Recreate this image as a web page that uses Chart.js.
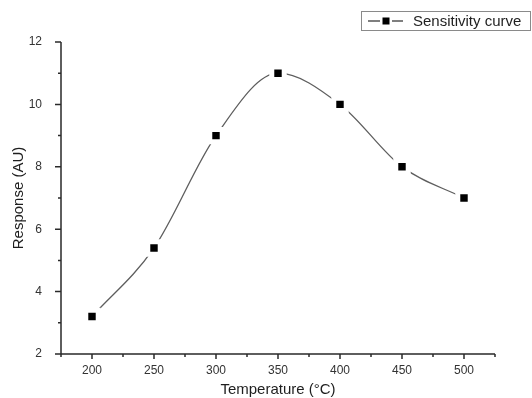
<!DOCTYPE html>
<html>
<head>
<meta charset="utf-8">
<script src="https://cdn.jsdelivr.net/npm/chart.js@4"></script>
<style>
  body { margin: 0; background: #fff; }
  #wrap { width: 532px; height: 398px; }
</style>
</head>
<body>
<div id="wrap"><canvas id="chart" width="532" height="398"></canvas></div>
<script>
const temperatures = [200, 250, 300, 350, 400, 450, 500];
const responses = [3.2, 5.4, 9, 11, 10, 8, 7];
const xTickValues = [200, 250, 300, 350, 400, 450, 500];
const yTickValues = [2, 4, 6, 8, 10, 12];
const seriesLabel = 'Sensitivity curve';

// origin-style axes: only left + bottom lines, outward major/minor ticks
const originAxes = {
    id: 'originAxes',
    afterDraw(chart) {
        const ctx = chart.ctx;
        const xs = chart.scales.x, ys = chart.scales.y;
        const left = chart.chartArea.left, bottom = chart.chartArea.bottom;
        ctx.save();
        ctx.strokeStyle = '#2a2a2a';
        ctx.lineWidth = 1.5;
        ctx.beginPath();
        ctx.moveTo(left, chart.chartArea.top);
        ctx.lineTo(left, bottom);
        ctx.moveTo(left - 1, bottom);
        ctx.lineTo(chart.chartArea.right, bottom);
        for (let v = xs.min; v <= xs.max; v += 25) {
            const px = xs.getPixelForValue(v);
            const len = v % 50 === 0 ? 5 : 3;
            ctx.moveTo(px, bottom);
            ctx.lineTo(px, bottom + len);
        }
        for (let v = ys.min; v <= ys.max; v += 1) {
            const py = ys.getPixelForValue(v);
            const len = v % 2 === 0 ? 6 : 3;
            ctx.moveTo(left, py);
            ctx.lineTo(left - len, py);
        }
        ctx.stroke();

        // framed legend
        const bx = 361, by = 11, bw = 169, bh = 19;
        ctx.strokeStyle = '#8a8a8a';
        ctx.lineWidth = 1;
        ctx.strokeRect(bx + 0.5, by + 0.5, bw, bh);
        const cy = by + bh / 2 + 0.5;
        ctx.strokeStyle = '#555';
        ctx.lineWidth = 1.3;
        ctx.beginPath();
        ctx.moveTo(368, cy); ctx.lineTo(380, cy);
        ctx.moveTo(392, cy); ctx.lineTo(403, cy);
        ctx.stroke();
        ctx.fillStyle = '#000';
        ctx.fillRect(382.5, cy - 3.5, 7, 7);
        ctx.fillStyle = '#1e1e1e';
        ctx.font = '15px "Liberation Sans", Arial, sans-serif';
        ctx.textBaseline = 'middle';
        ctx.textAlign = 'left';
        ctx.fillText(chart.data.datasets[0].label, 413, cy + 1);
        ctx.restore();
    }
};

new Chart(document.getElementById('chart'), {
    type: 'line',
    data: {
        datasets: [{
            label: seriesLabel,
            data: temperatures.map((t, i) => ({ x: t, y: responses[i] })),
            borderColor: '#5e5e5e',
            borderWidth: 1.3,
            cubicInterpolationMode: 'monotone',
            pointStyle: 'rect',
            pointRadius: 8.8,
            pointBackgroundColor: '#000',
            pointBorderColor: '#fff',
            pointBorderWidth: 5,
            fill: false
        }]
    },
    options: {
        responsive: false,
        animation: false,
        events: [],
        layout: { padding: { left: 0, right: 37, top: 42, bottom: 0 } },
        plugins: {
            legend: { display: false },
            tooltip: { enabled: false }
        },
        scales: {
            x: {
                type: 'linear',
                min: 175,
                max: 525,
                afterBuildTicks: s => { s.ticks = xTickValues.map(v => ({ value: v })); },
                afterFit: s => { s.height = 44; },
                grid: { display: false },
                border: { display: false },
                ticks: {
                    padding: 1,
                    color: '#333',
                    font: { family: '"Liberation Sans", Arial, sans-serif', size: 12 },
                    maxRotation: 0
                },
                title: {
                    display: true,
                    text: 'Temperature (°C)',
                    color: '#1e1e1e',
                    font: { family: '"Liberation Sans", Arial, sans-serif', size: 15 },
                    padding: { top: 0, bottom: -1 }
                }
            },
            y: {
                min: 2,
                max: 12,
                afterBuildTicks: s => { s.ticks = yTickValues.map(v => ({ value: v })); },
                afterFit: s => { s.width = 61; },
                grid: { display: false },
                border: { display: false },
                ticks: {
                    padding: 11,
                    color: '#333',
                    font: { family: '"Liberation Sans", Arial, sans-serif', size: 12 }
                },
                title: {
                    display: true,
                    text: 'Response (AU)',
                    color: '#1e1e1e',
                    font: { family: '"Liberation Sans", Arial, sans-serif', size: 15 },
                    padding: { top: 10, bottom: 0 }
                }
            }
        }
    },
    plugins: [originAxes]
});
</script>
</body>
</html>
